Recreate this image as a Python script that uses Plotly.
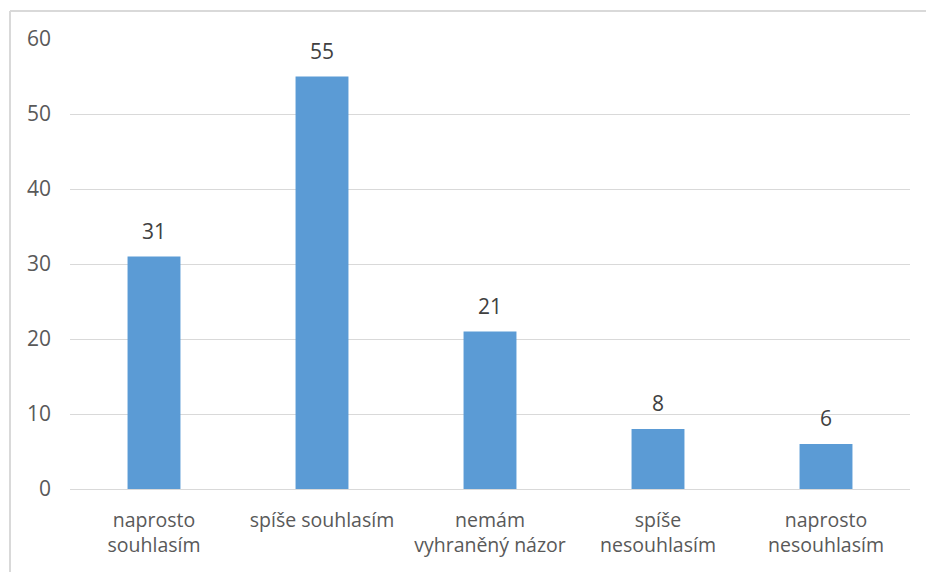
import plotly.graph_objects as go

# Survey answers and counts
categories = [
    "naprosto<br>souhlasím",
    "spíše souhlasím",
    "nemám<br>vyhraněný názor",
    "spíše<br>nesouhlasím",
    "naprosto<br>nesouhlasím",
]
counts = [31, 55, 21, 8, 6]
y_ticks = [0, 10, 20, 30, 40, 50, 60]

FONT = "Open Sans, Liberation Sans, sans-serif"
TEXT_COLOR = "#595959"
GRID_COLOR = "#d9d9d9"
BAR_COLOR = "#5b9bd5"

fig = go.Figure(
    go.Bar(
        x=categories,
        y=counts,
        width=0.315,
        marker=dict(color=BAR_COLOR, line=dict(width=0)),
        hoverinfo="skip",
    )
)

# value labels above each bar
for cat, val in zip(categories, counts):
    fig.add_annotation(
        x=cat, y=val, text=str(val), showarrow=False,
        yanchor="bottom", yshift=10,
        font=dict(family=FONT, size=21, color="#404040"),
    )

# chart frame (left and top edges)
W, H = 926, 572
L, R, T, B = 70, 16, 39, 83
pw, ph = W - L - R, H - T - B
def px_x(p):
    return (p - L) / pw
def px_y(p):
    return (H - B - p) / ph

fig.add_shape(type="line", xref="paper", yref="paper",
              x0=px_x(10), x1=px_x(10), y0=px_y(11), y1=px_y(580),
              line=dict(color=GRID_COLOR, width=2), layer="below")
fig.add_shape(type="line", xref="paper", yref="paper",
              x0=px_x(10), x1=px_x(940), y0=px_y(11), y1=px_y(11),
              line=dict(color=GRID_COLOR, width=2), layer="below")

fig.update_layout(
    width=W, height=H,
    margin=dict(l=L, r=R, t=T, b=B, pad=0),
    paper_bgcolor="white", plot_bgcolor="white",
    showlegend=False,
    bargap=0.685,
    font=dict(family=FONT, size=20, color=TEXT_COLOR),
)
fig.update_xaxes(
    showgrid=False, showline=False, zeroline=False, ticks="",
    tickfont=dict(family=FONT, size=19.5, color=TEXT_COLOR),
    ticklabelstandoff=17,
)
fig.update_yaxes(
    range=[0, 60], tickvals=y_ticks,
    showgrid=True, gridcolor=GRID_COLOR, gridwidth=1,
    zeroline=True, zerolinecolor=GRID_COLOR, zerolinewidth=1,
    showline=False, ticks="",
    tickfont=dict(family=FONT, size=21, color=TEXT_COLOR),
    ticklabelstandoff=18,
)

fig.write_html("out.html")
